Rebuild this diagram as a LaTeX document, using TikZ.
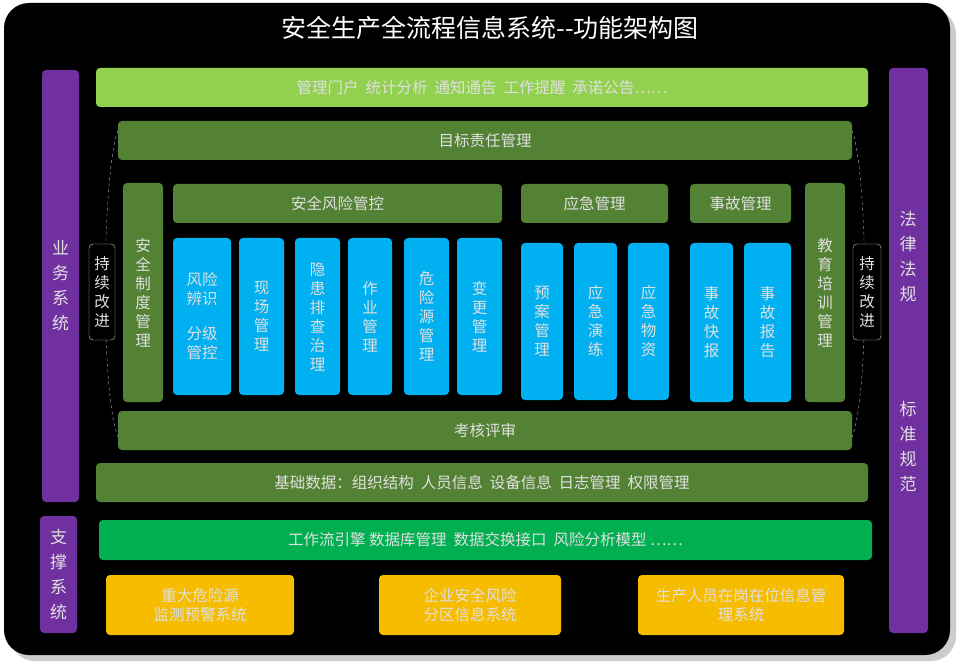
\documentclass[tikz,border=0pt]{standalone}
\usepackage{fontspec}
\setmainfont{Noto Sans CJK SC}
\definecolor{cpurp}{HTML}{7030A0}
\definecolor{cdg}{HTML}{548235}
\definecolor{clg}{HTML}{92D050}
\definecolor{cbl}{HTML}{00B0F0}
\definecolor{cyl}{HTML}{F5BC00}
\definecolor{cgr}{HTML}{00B050}
\begin{document}
\begin{tikzpicture}[x=1pt,y=-1pt,
 box/.style={rounded corners=4pt,draw=none,text=white!88!black,font=\fontsize{15.5}{19}\selectfont,align=center,inner sep=0pt},
 purp/.style={box,fill=cpurp,font=\fontsize{17}{25}\selectfont},
 dg/.style={box,fill=cdg},
 lg/.style={box,fill=clg},
 bl/.style={box,fill=cbl},
 yl/.style={box,fill=cyl},
 gr/.style={box,fill=cgr},
 vt/.style={font=\fontsize{17}{25}\selectfont}]
\useasboundingbox (0,0) rectangle (966,668);
\fill[gray!40] (10,9) [rounded corners=25pt] rectangle (956,661);
\fill[black] (4,3) [rounded corners=25pt] rectangle (950,655);
\node[text=white,font=\fontsize{25}{27}\selectfont] (title) at (490,28) {安全生产全流程信息系统-{}-功能架构图};
\def\B#1#2#3#4#5#6#7{\node[#1,minimum width=#4-#2,minimum height=#5-#3] (#6) at ({(#2+#4)/2},{(#3+#5)/2}) {#7};}
\B{purp}{42}{70}{79}{502}{ywxt}{业\\务\\系\\统}
\B{purp}{40}{516}{77}{633}{zcxt}{支\\撑\\系\\统}
\B{purp}{889}{68}{928}{633}{flfg}{}
\node[box,vt] (fl) at (908,257) {法\\律\\法\\规};
\node[box,vt] (bz) at (908,447) {标\\准\\规\\范};
\B{lg}{96}{68}{868}{107}{mh}{管理门户\ \ 统计分析\ \ 通知通告\ \ 工作提醒\ \ 承诺公告……}
\B{dg}{118}{121}{852}{160}{mb}{目标责任管理}
\B{dg}{118}{411}{852}{450}{kh}{考核评审}
\draw[white!70!black,dashed] ([yshift=10pt]mb.west) .. controls (102,175) and (100,390) .. ([yshift=-6pt]kh.west);
\draw[white!70!black,dashed] ([yshift=10pt]mb.east) .. controls (868,175) and (870,390) .. ([yshift=-6pt]kh.east);
\node[box,fill=black,draw=white!80!black,minimum width=26,minimum height=96] (cx1) at (102,292) {持\\续\\改\\进};
\node[box,fill=black,draw=white!80!black,minimum width=28,minimum height=96] (cx2) at (867,292) {持\\续\\改\\进};
\B{dg}{123}{183}{163}{402}{zd}{安\\全\\制\\度\\管\\理}
\B{dg}{173}{184}{502}{223}{fx}{安全风险管控}
\B{dg}{521}{184}{668}{223}{yj}{应急管理}
\B{dg}{690}{184}{791}{223}{sg}{事故管理}
\B{dg}{805}{183}{845}{402}{jy}{教\\育\\培\\训\\管\\理}
\B{bl}{173}{238}{231}{395}{b1}{风险\\辨识\\[16pt]分级\\管控}
\B{bl}{239}{238}{284}{395}{b2}{现\\场\\管\\理}
\B{bl}{295}{238}{340}{395}{b3}{隐\\患\\排\\查\\治\\理}
\B{bl}{348}{238}{392}{395}{b4}{作\\业\\管\\理}
\B{bl}{404}{238}{449}{395}{b5}{危\\险\\源\\管\\理}
\B{bl}{457}{238}{502}{395}{b6}{变\\更\\管\\理}
\B{bl}{521}{243}{563}{400}{b7}{预\\案\\管\\理}
\B{bl}{574}{243}{617}{400}{b8}{应\\急\\演\\练}
\B{bl}{628}{243}{669}{400}{b9}{应\\急\\物\\资}
\B{bl}{690}{243}{733}{402}{b10}{事\\故\\快\\报}
\B{bl}{744}{243}{791}{402}{b11}{事\\故\\报\\告}
\B{dg}{96}{463}{868}{502}{jc}{基础数据：组织结构\ \ 人员信息\ \ 设备信息\ \ 日志管理\ \ 权限管理}
\B{gr}{99}{520}{872}{560}{gz}{工作流引擎 数据库管理\ \ 数据交换接口\ \ 风险分析模型 ……}
\B{yl}{106}{575}{294}{635}{y1}{重大危险源\\监测预警系统}
\B{yl}{379}{575}{561}{635}{y2}{企业安全风险\\分区信息系统}
\B{yl}{638}{575}{844}{635}{y3}{生产人员在岗在位信息管\\理系统}
\end{tikzpicture}
\end{document}
